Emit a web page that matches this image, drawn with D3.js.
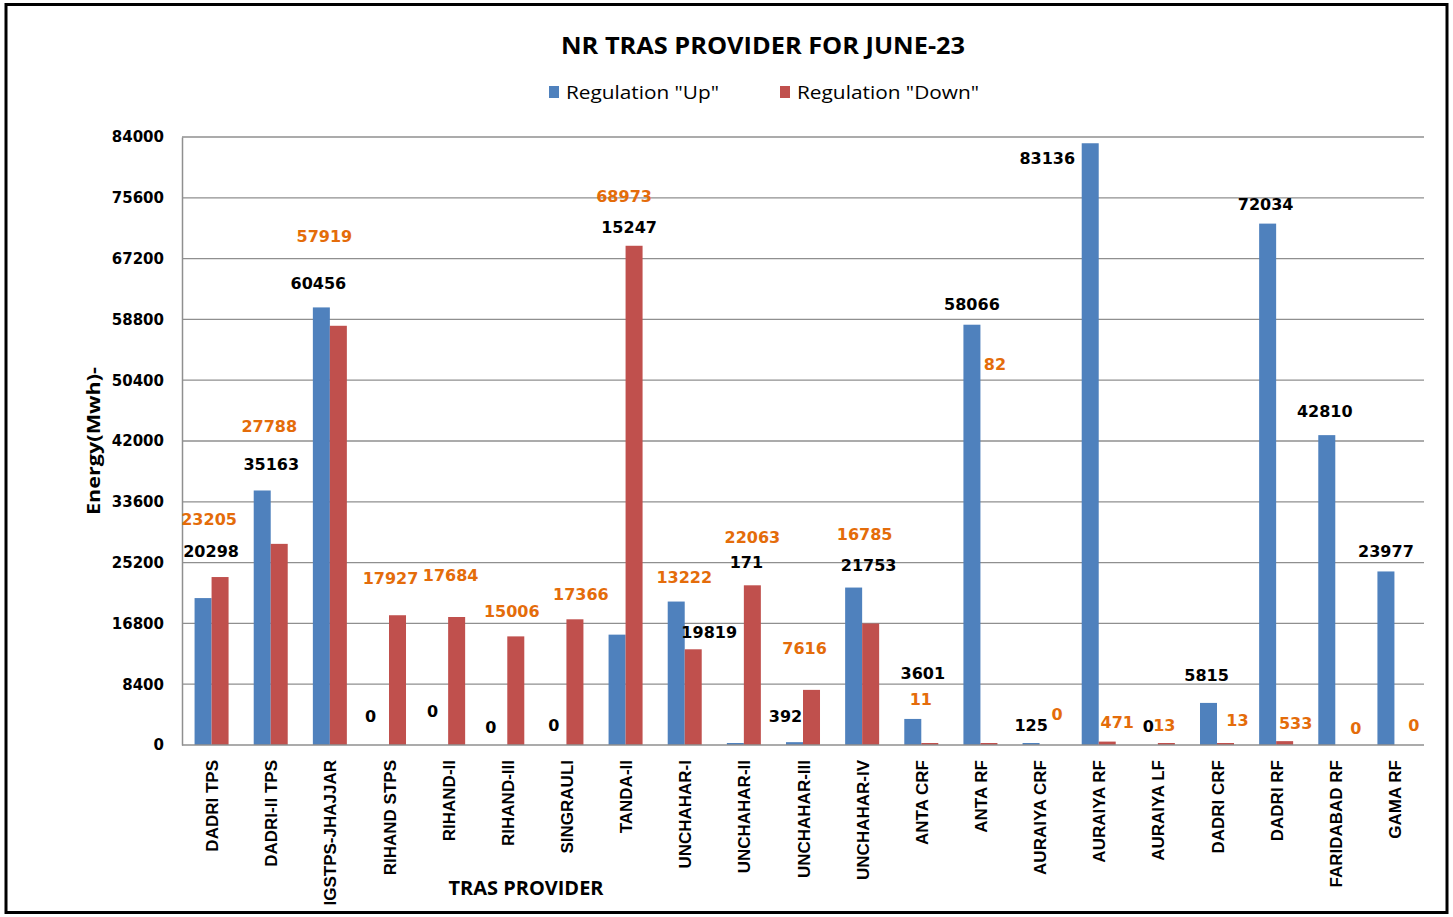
<!DOCTYPE html>
<html>
<head>
<meta charset="utf-8">
<script src="https://cdn.jsdelivr.net/npm/d3@7"></script>
<style>
  html, body { margin: 0; padding: 0; background: #fff; }
  svg { display: block; }
</style>
</head>
<body>
<script>
// ---- data ----
const categories = ["DADRI TPS","DADRI-II TPS","IGSTPS-JHAJJAR","RIHAND STPS","RIHAND-II","RIHAND-III","SINGRAULI","TANDA-II","UNCHAHAR-I","UNCHAHAR-II","UNCHAHAR-III","UNCHAHAR-IV","ANTA CRF","ANTA RF","AURAIYA CRF","AURAIYA RF","AURAIYA LF","DADRI CRF","DADRI RF","FARIDABAD RF","GAMA RF"];
const regulationUp   = [20298,35163,60456,0,0,0,0,15247,19819,171,392,21753,3601,58066,125,83136,0,5815,72034,42810,23977];
const regulationDown = [23205,27788,57919,17927,17684,15006,17366,68973,13222,22063,7616,16785,11,82,0,471,13,13,533,0,0];
const seriesNames = ['Regulation "Up"', 'Regulation "Down"'];
const yTicks = [0,8400,16800,25200,33600,42000,50400,58800,67200,75600,84000];
const titleText = "NR TRAS PROVIDER FOR JUNE-23";
const xTitle = "TRAS PROVIDER";
const yTitle = "Energy(Mwh)-";

// ---- label layout (pixel nudges of the hand-placed data labels, relative to bar top) ----
const upLabelNudge = [[8,-47],[9,-26],[-3,-24],[-10,-29],[-7,-34],[-8,-18],[-4,-20],[12,-407],[33,31],[11,-181],[-9,-26],[15,-22],[10,-45],[0,-20],[0,-19],[-43,15],[-1,-19],[-2,-27],[-2,-19],[-2,-24],[0,-20]];
const downLabelNudge = [[-11,-58],[-10,-117],[-14,-89],[-7,-37],[-6,-42],[-4,-25],[6,-25],[-10,-49],[-9,-72],[0,-48],[-7,-41],[-6,-89],[-9,-45],[6,-380],[9,-31],[10,-19],[-2,-19],[12,-24],[11,-18],[12,-17],[11,-20]];

// ---- layout ----
const W = 1453, H = 917;
const plot = { left: 182, right: 1424, top: 137, bottom: 745 };
const colors = { up: "#4F81BD", down: "#C0504D", upLabel: "#000000", downLabel: "#E46C0A" };
const minBarPx = 2; // tiny non-zero values still show as a thin sliver

const svg = d3.select("body").append("svg").attr("width", W).attr("height", H);

svg.append("rect").attr("x", 0).attr("y", 0).attr("width", W).attr("height", H).attr("fill", "#fff");
// outer frame
svg.append("rect").attr("x", 6).attr("y", 4.5).attr("width", 1441).attr("height", 908)
  .attr("fill", "none").attr("stroke", "#000").attr("stroke-width", 3);

const x0 = d3.scaleBand().domain(categories).range([plot.left, plot.right])
  .paddingInner(0.425).paddingOuter(0.2125);
const x1 = d3.scaleBand().domain(["up","down"]).range([0, x0.bandwidth()]);
const y = d3.scaleLinear().domain([0, 84000]).range([plot.bottom, plot.top]);
const barH = v => v > 0 ? Math.max(minBarPx, y(0) - y(v)) : 0;

// gridlines
svg.append("g").selectAll("line").data(yTicks.filter(d => d > 0)).join("line")
  .attr("x1", plot.left).attr("x2", plot.right)
  .attr("y1", d => y(d)).attr("y2", d => y(d))
  .attr("stroke", "#8f8f8f").attr("stroke-width", 1.3);

// y axis
const yAxis = d3.axisLeft(y).tickValues(yTicks).tickSize(0).tickPadding(18).tickFormat(d3.format("d"));
const gy = svg.append("g").attr("transform", `translate(${plot.left},0)`).call(yAxis);
gy.select(".domain").attr("stroke", "#8f8f8f").attr("stroke-width", 1.5);
gy.selectAll("text").attr("font-family", "'DejaVu Sans', Verdana, sans-serif")
  .attr("font-weight", "bold").attr("font-size", 15).attr("fill", "#000");

// bars
const rows = categories.map((c, i) => ({ c, i, up: regulationUp[i], down: regulationDown[i] }));
const groups = svg.append("g").selectAll("g").data(rows).join("g")
  .attr("transform", d => `translate(${x0(d.c)},0)`);
groups.append("rect")
  .attr("x", x1("up")).attr("width", x1.bandwidth())
  .attr("y", d => y(0) - barH(d.up)).attr("height", d => barH(d.up))
  .attr("fill", colors.up);
groups.append("rect")
  .attr("x", x1("down")).attr("width", x1.bandwidth())
  .attr("y", d => y(0) - barH(d.down)).attr("height", d => barH(d.down))
  .attr("fill", colors.down);

// x axis baseline
svg.append("line").attr("x1", plot.left).attr("x2", plot.right)
  .attr("y1", plot.bottom).attr("y2", plot.bottom)
  .attr("stroke", "#8f8f8f").attr("stroke-width", 1.5);

// data labels
const labelFont = "'DejaVu Sans', Verdana, sans-serif";
groups.append("text")
  .attr("x", d => x1("up") + x1.bandwidth() / 2 + upLabelNudge[d.i][0])
  .attr("y", d => y(d.up) + upLabelNudge[d.i][1])
  .attr("text-anchor", "middle").attr("dominant-baseline", "central")
  .attr("font-family", labelFont).attr("font-weight", "bold").attr("font-size", 16)
  .attr("fill", colors.upLabel).text(d => d.up);
groups.append("text")
  .attr("x", d => x1("down") + x1.bandwidth() / 2 + downLabelNudge[d.i][0])
  .attr("y", d => y(d.down) + downLabelNudge[d.i][1])
  .attr("text-anchor", "middle").attr("dominant-baseline", "central")
  .attr("font-family", labelFont).attr("font-weight", "bold").attr("font-size", 16)
  .attr("fill", colors.downLabel).text(d => d.down);

// category labels (rotated)
svg.append("g").selectAll("text").data(categories).join("text")
  .attr("transform", d => `translate(${x0(d) + x0.bandwidth() / 2 + 6.5},760) rotate(-90)`)
  .attr("text-anchor", "end")
  .attr("font-family", "'Liberation Sans', Arial, sans-serif").attr("font-weight", "bold")
  .attr("font-size", 17).attr("fill", "#000")
  .text(d => d);

// axis titles
svg.append("text").attr("x", 526).attr("y", 895).attr("text-anchor", "middle")
  .attr("font-family", "'Open Sans', sans-serif").attr("font-weight", "bold").attr("font-size", 19)
  .attr("textLength", 155).attr("lengthAdjust", "spacingAndGlyphs")
  .text(xTitle);
svg.append("text").attr("transform", "translate(100,441) rotate(-90)").attr("text-anchor", "middle")
  .attr("font-family", "'Open Sans', sans-serif").attr("font-weight", "bold").attr("font-size", 18)
  .attr("textLength", 148).attr("lengthAdjust", "spacingAndGlyphs")
  .text(yTitle);

// title
svg.append("text").attr("x", 763).attr("y", 54).attr("text-anchor", "middle")
  .attr("font-family", "'Open Sans', sans-serif").attr("font-weight", "bold").attr("font-size", 24)
  .attr("textLength", 404).attr("lengthAdjust", "spacingAndGlyphs")
  .text(titleText);

// legend
const legendItems = [
  { name: seriesNames[0], color: colors.up, x: 549, len: 153 },
  { name: seriesNames[1], color: colors.down, x: 780, len: 182 }
];
const lg = svg.append("g").selectAll("g").data(legendItems).join("g")
  .attr("transform", d => `translate(${d.x},0)`);
lg.append("rect").attr("x", 0).attr("y", 86).attr("width", 10).attr("height", 12).attr("fill", d => d.color);
lg.append("text").attr("x", 17).attr("y", 99)
  .attr("font-family", "'Open Sans', sans-serif").attr("font-size", 19)
  .attr("textLength", d => d.len).attr("lengthAdjust", "spacingAndGlyphs")
  .attr("fill", "#000").text(d => d.name);
</script>
</body>
</html>
